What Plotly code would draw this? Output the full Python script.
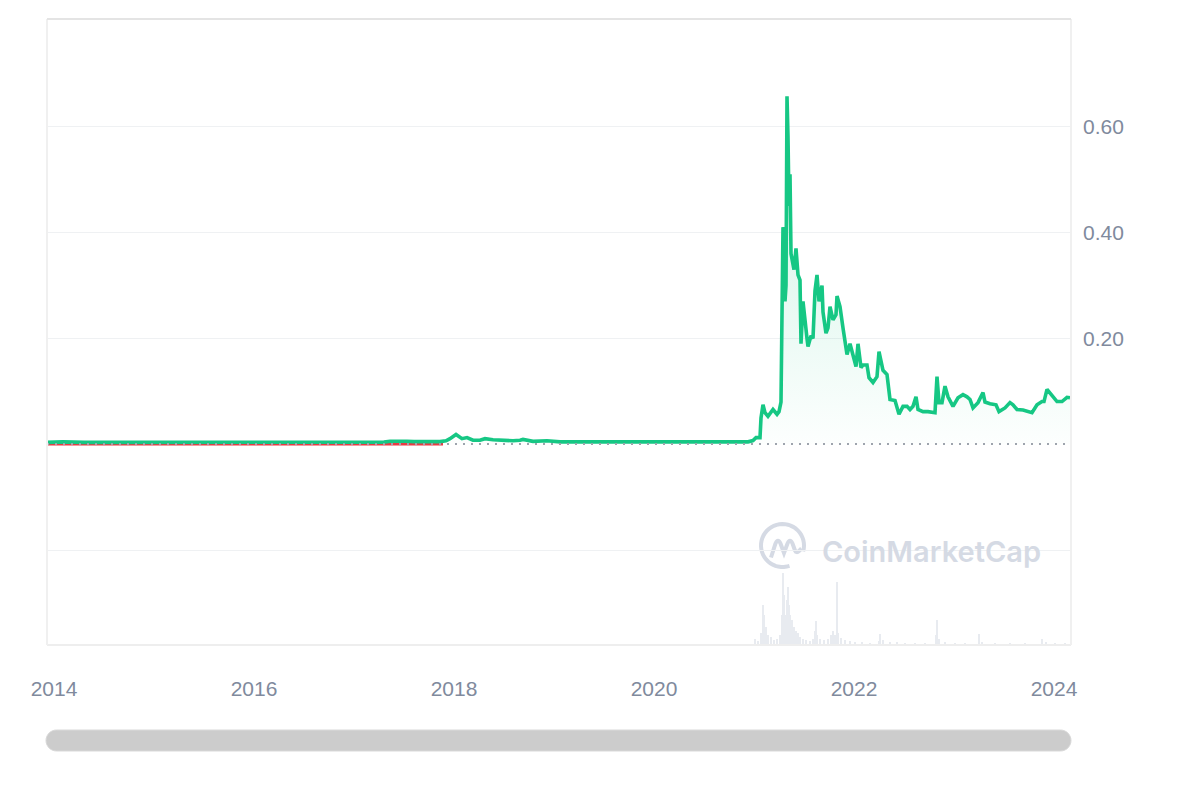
import math
import plotly.graph_objects as go

# ---------------- data ----------------
price_years = [
    2013.93, 2014.0, 2014.09, 2014.3, 2014.6, 2015.0, 2015.5, 2016.0, 2016.5, 2017.0,
    2017.3, 2017.36, 2017.45, 2017.53, 2017.6, 2017.7, 2017.86, 2017.92, 2017.96, 2018.02,
    2018.08, 2018.13, 2018.19, 2018.26, 2018.31, 2018.39, 2018.46, 2018.59, 2018.66, 2018.69,
    2018.79, 2018.93, 2019.06, 2019.26, 2019.46, 2019.86, 2020.26, 2020.46, 2020.66, 2020.94,
    2020.99, 2021.02, 2021.06, 2021.07, 2021.09, 2021.11, 2021.14, 2021.19, 2021.23, 2021.25,
    2021.27, 2021.28, 2021.29, 2021.30, 2021.31, 2021.32, 2021.33, 2021.34, 2021.35, 2021.36,
    2021.37, 2021.40, 2021.42, 2021.44, 2021.46, 2021.47, 2021.49, 2021.53, 2021.54, 2021.57,
    2021.59, 2021.61, 2021.63, 2021.65, 2021.68, 2021.69, 2021.72, 2021.74, 2021.76, 2021.79,
    2021.82, 2021.83, 2021.86, 2021.89, 2021.93, 2021.96, 2021.99, 2022.02, 2022.04, 2022.07,
    2022.09, 2022.13, 2022.15, 2022.19, 2022.23, 2022.25, 2022.29, 2022.33, 2022.36, 2022.41,
    2022.45, 2022.49, 2022.53, 2022.56, 2022.59, 2022.62, 2022.64, 2022.69, 2022.74, 2022.81,
    2022.83, 2022.85, 2022.88, 2022.91, 2022.94, 2022.99, 2023.04, 2023.09, 2023.13, 2023.16,
    2023.19, 2023.24, 2023.29, 2023.31, 2023.36, 2023.42, 2023.45, 2023.51, 2023.56, 2023.59,
    2023.63, 2023.69, 2023.78, 2023.83, 2023.88, 2023.90, 2023.93, 2023.97, 2023.99, 2024.03,
    2024.08, 2024.13, 2024.16,
]
price_values = [
    0.004, 0.0045, 0.005, 0.004, 0.004, 0.004, 0.0035, 0.004, 0.004, 0.004,
    0.0045, 0.006, 0.0065, 0.006, 0.0055, 0.005, 0.0055, 0.007, 0.011, 0.019,
    0.011, 0.013, 0.008, 0.008, 0.011, 0.009, 0.008, 0.007, 0.008, 0.0095,
    0.006, 0.007, 0.005, 0.005, 0.004, 0.0045, 0.004, 0.005, 0.005, 0.005,
    0.0075, 0.013, 0.013, 0.05, 0.075, 0.06, 0.053, 0.066, 0.057, 0.062,
    0.08, 0.30, 0.41, 0.40, 0.27, 0.30, 0.657, 0.58, 0.45, 0.51,
    0.36, 0.33, 0.37, 0.32, 0.31, 0.19, 0.27, 0.20, 0.185, 0.205,
    0.20, 0.29, 0.32, 0.27, 0.30, 0.25, 0.21, 0.22, 0.26, 0.235,
    0.245, 0.28, 0.26, 0.22, 0.17, 0.19, 0.17, 0.147, 0.19, 0.145,
    0.15, 0.15, 0.126, 0.117, 0.128, 0.175, 0.14, 0.132, 0.085, 0.083,
    0.057, 0.072, 0.072, 0.066, 0.072, 0.09, 0.066, 0.062, 0.062, 0.060,
    0.128, 0.079, 0.079, 0.11, 0.09, 0.072, 0.088, 0.094, 0.09, 0.085,
    0.069, 0.079, 0.098, 0.08, 0.077, 0.075, 0.062, 0.069, 0.079, 0.075,
    0.066, 0.065, 0.060, 0.075, 0.081, 0.081, 0.104, 0.094, 0.09, 0.081,
    0.081, 0.089, 0.088,
]

# segment of the line below the opening price (drawn red)
below_years = [2013.93, 2015.0, 2016.0, 2017.0, 2017.89]
below_values = [0.0004, 0.0004, 0.0004, 0.0004, 0.0004]

baseline_years = [2013.93, 2024.17]
baseline_values = [0.001, 0.001]

# trading volume (billions USD)
vol_years = [
    2019.5, 2020.5,
    2021.01, 2021.04, 2021.07, 2021.09, 2021.10, 2021.12, 2021.14, 2021.17, 2021.20, 2021.23,
    2021.26, 2021.28, 2021.29, 2021.30, 2021.32, 2021.33, 2021.34, 2021.35, 2021.36, 2021.38,
    2021.40, 2021.42, 2021.44, 2021.46, 2021.49, 2021.52, 2021.56, 2021.59, 2021.61, 2021.62,
    2021.63, 2021.66, 2021.70, 2021.74, 2021.77, 2021.79, 2021.81, 2021.83, 2021.84, 2021.87,
    2021.91, 2021.96, 2022.01, 2022.08, 2022.16, 2022.25, 2022.26, 2022.29, 2022.36, 2022.43,
    2022.51, 2022.61, 2022.71, 2022.82, 2022.83, 2022.85, 2022.91, 2023.01, 2023.11, 2023.25,
    2023.28, 2023.41, 2023.56, 2023.71, 2023.88, 2023.92, 2024.01, 2024.11,
]
vol_values = [
    0.5, 0.5,
    6, 4, 12, 40, 30, 18, 10, 8, 5, 6,
    10, 30, 72, 50, 30, 45, 58, 40, 30, 25,
    18, 14, 12, 8, 6, 5, 4, 6, 14, 24,
    10, 6, 5, 6, 10, 14, 10, 63, 12, 7,
    5, 4, 3, 3, 2, 4, 11, 5, 3, 3,
    2, 2, 2, 10, 25, 6, 3, 2, 2, 11,
    3, 2, 2, 2, 6, 3, 2, 2,
]

x_tick_vals = [2014, 2016, 2018, 2020, 2022, 2024]
x_tick_text = ["2014", "2016", "2018", "2020", "2022", "2024"]
y_tick_vals = [-0.2, 0.2, 0.4, 0.6]
y_tick_text = ["", "0.20", "0.40", "0.60"]

GREEN = "#16c784"
RED = "#ea3943"
LABEL = "#808a9d"
WATER = "#d5dae4"

# ---------------- figure ----------------
fig = go.Figure()

fig.add_trace(go.Bar(
    x=vol_years, y=vol_values, yaxis="y2",
    width=0.011, marker=dict(color="#e8ebf0", line=dict(width=0)),
    hoverinfo="skip", showlegend=False,
))

fig.add_trace(go.Scatter(
    x=below_years, y=below_values, mode="lines",
    line=dict(color=RED, width=2.5), hoverinfo="skip", showlegend=False,
))

fig.add_trace(go.Scatter(
    x=price_years, y=price_values, mode="lines",
    line=dict(color=GREEN, width=3.6),
    fill="tozeroy",
    fillgradient=dict(
        type="vertical", start=0.0, stop=0.45,
        colorscale=[[0, "rgba(22,199,132,0.01)"], [1, "rgba(22,199,132,0.16)"]],
    ),
    hoverinfo="skip", showlegend=False,
))

fig.add_trace(go.Scatter(
    x=baseline_years, y=baseline_values, mode="lines",
    line=dict(color="#9ea4ad", width=2, dash="2px,6px"),
    hoverinfo="skip", showlegend=False,
))

# ---------------- layout geometry ----------------
# The page places the figure 8px from the window's top-left corner.
OFF = 8
FW, FH = 1200 - OFF, 800 - OFF
L, T, W, H = 47 - OFF, 19 - OFF, 1024, 626  # plot area in figure pixels


def px_x(X):
    return (X - OFF - L) / W


def px_y(Y):
    return (T + H - (Y - OFF)) / H


shapes = []
# plot frame
shapes.append(dict(type="line", xref="paper", yref="paper", x0=0, x1=1, y0=0, y1=0,
                   line=dict(color="#eeeeee", width=2), layer="above"))
shapes.append(dict(type="line", xref="paper", yref="paper", x0=0, x1=0, y0=0, y1=1,
                   line=dict(color="#f0f0f0", width=2), layer="above"))
shapes.append(dict(type="line", xref="paper", yref="paper", x0=1, x1=1, y0=0, y1=1,
                   line=dict(color="#f0f0f0", width=2), layer="above"))
shapes.append(dict(type="line", xref="paper", yref="paper", x0=0, x1=1, y0=1, y1=1,
                   line=dict(color="#e4e4e4", width=2), layer="above"))

# watermark logo (pixel-sized path, y up)
r = 21.5
pts = []
a0, a1 = -16, 289
n = 40
for i in range(n + 1):
    a = math.radians(a0 + (a1 - a0) * i / n)
    pts.append((r * math.cos(a), r * math.sin(a)))
circle_path = "M " + " L ".join(f"{x:.2f},{y:.2f}" for x, y in pts)
m_path = ("M -11.5,-12 L -7,2 Q -4.5,7.5 -2,2 L 1.5,-7.5 L 5,2 Q 7.5,7.5 10,2 "
          "L 12.5,-5 Q 14,-8 16.5,-5.5 L 19,-3")
for p in (circle_path, m_path):
    shapes.append(dict(type="path", xref="paper", yref="paper",
                       xsizemode="pixel", ysizemode="pixel",
                       xanchor=px_x(782.5), yanchor=px_y(545.5),
                       path=p, line=dict(color=WATER, width=4), layer="below"))

# scrollbar (rounded bar)
rr = 10.5
k = 0.5523 * rr
x0s, x1s = -1, 1024
sb_path = (f"M {x0s+rr},{rr} L {x1s-rr},{rr} "
           f"C {x1s-rr+k},{rr} {x1s},{k} {x1s},0 "
           f"C {x1s},{-k} {x1s-rr+k},{-rr} {x1s-rr},{-rr} "
           f"L {x0s+rr},{-rr} "
           f"C {x0s+rr-k},{-rr} {x0s},{-k} {x0s},0 "
           f"C {x0s},{k} {x0s+rr-k},{rr} {x0s+rr},{rr} Z")
shapes.append(dict(type="path", xref="paper", yref="paper",
                   xsizemode="pixel", ysizemode="pixel",
                   xanchor=0, yanchor=px_y(740.5),
                   path=sb_path, fillcolor="#cccccc",
                   line=dict(color="#d9d9d9", width=1), layer="above"))

fig.update_layout(
    width=FW, height=FH,
    margin=dict(l=L, r=FW - L - W, t=T, b=FH - T - H, pad=0),
    paper_bgcolor="white", plot_bgcolor="white",
    showlegend=False, bargap=0,
    xaxis=dict(
        range=[2013.93, 2024.17], tickmode="array",
        tickvals=x_tick_vals, ticktext=x_tick_text,
        showgrid=False, zeroline=False, showline=False, ticks="",
        tickfont=dict(family="Liberation Sans, Arial, Helvetica, sans-serif", size=21, color=LABEL),
        ticklabelstandoff=29, fixedrange=True,
    ),
    yaxis=dict(
        range=[-0.3783, 0.8028], side="right", tickmode="array",
        tickvals=y_tick_vals, ticktext=y_tick_text,
        showgrid=True, gridcolor="#eff1f3", gridwidth=1,
        zeroline=False, showline=False, ticks="",
        tickfont=dict(family="Liberation Sans, Arial, Helvetica, sans-serif", size=21, color=LABEL),
        ticklabelstandoff=11, fixedrange=True,
    ),
    yaxis2=dict(
        overlaying="y", range=[0, 626], visible=False, showgrid=False, fixedrange=True,
    ),
    shapes=shapes,
    annotations=[dict(
        text="CoinMarketCap", xref="paper", yref="paper",
        x=px_x(931.5), y=px_y(551), xanchor="center", yanchor="middle",
        showarrow=False,
        font=dict(family="Inter, Noto Sans, sans-serif", size=29, color=WATER, weight=600),
    )],
)

fig.write_html("out.html")
